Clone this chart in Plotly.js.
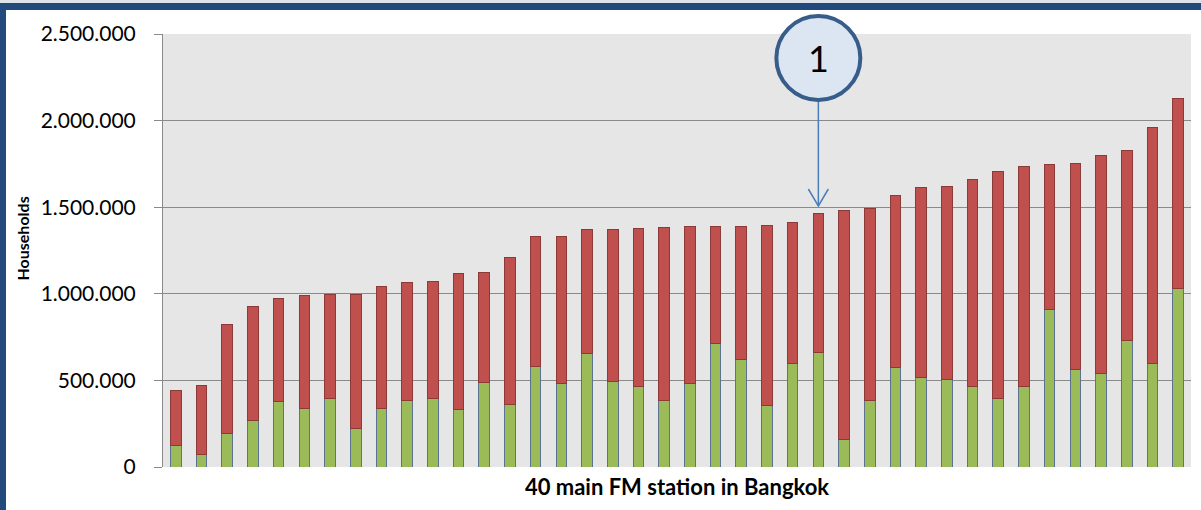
<!DOCTYPE html>
<html>
<head>
<meta charset="utf-8">
<script src="https://cdn.plot.ly/plotly-3.0.1.min.js"></script>
<style>
  html, body { margin: 0; padding: 0; background: #ffffff; }
  #wrap { position: relative; width: 1201px; height: 510px; overflow: hidden; }
  #chart { position: absolute; left: 0; top: 0; width: 1201px; height: 510px; }
  .frame-top { position: absolute; left: 0; top: 3px; width: 1201px; height: 7px; background: #234a7c; pointer-events: none; }
  .frame-top-light { position: absolute; left: 0; top: 0; width: 1201px; height: 3px; background: #dfe3ea; pointer-events: none; }
  .frame-left { position: absolute; left: 0; top: 3px; width: 6px; height: 507px; background: #234a7c; pointer-events: none; }
</style>
</head>
<body>
<div id="wrap">
  <div id="chart"></div>
  <div class="frame-top-light"></div>
  <div class="frame-top"></div>
  <div class="frame-left"></div>
</div>
<script>
// 40 main FM stations (sorted by total households)
const stations = [1,2,3,4,5,6,7,8,9,10,11,12,13,14,15,16,17,18,19,20,
                  21,22,23,24,25,26,27,28,29,30,31,32,33,34,35,36,37,38,39,40];

// lower (green) segment, households
const greenValues = [125000, 75000, 191000, 266000, 380000, 335000, 397000, 224000, 335000, 385000,
                     397000, 330000, 488000, 361000, 578000, 482000, 657000, 491000, 462000, 384000,
                     482000, 711000, 618000, 353000, 600000, 663000, 156000, 385000, 572000, 518000,
                     505000, 462000, 393000, 462000, 910000, 561000, 538000, 733000, 595000, 1030000];

// upper (red) segment, households
const redValues = [316000, 397000, 634000, 661000, 595000, 656000, 601000, 774000, 705000, 679000,
                   672000, 788000, 636000, 847000, 751000, 847000, 715000, 881000, 916000, 1001000,
                   904000, 676000, 769000, 1042000, 814000, 799000, 1324000, 1110000, 998000, 1095000,
                   1113000, 1199000, 1316000, 1272000, 836000, 1190000, 1258000, 1097000, 1368000, 1095000];

const yTicks = [0, 500000, 1000000, 1500000, 2000000, 2500000];

const xTitle = '40 main FM station in Bangkok';
const yTitle = 'Households';

const markedStation = 26;   // station pointed to by callout "1"
const calloutLabel = '1';

const xRange = [0.5, 40.5];
const xFrac = (markedStation - xRange[0]) / (xRange[1] - xRange[0]);

const font = 'Lato, "Open Sans", sans-serif';

const traces = [
  {
    type: 'bar', x: stations, y: greenValues, name: 'green',
    marker: { color: '#9bbb59', line: { color: '#5a7390', width: 1 } },
    hoverinfo: 'y'
  },
  {
    type: 'bar', x: stations, y: redValues, name: 'red',
    marker: { color: '#c0504d', line: { color: '#8c3a38', width: 1 } },
    hoverinfo: 'y'
  }
];

const layout = {
  width: 1201, height: 510,
  margin: { l: 163, r: 10, t: 34, b: 43 },
  paper_bgcolor: 'rgba(0,0,0,0)',
  plot_bgcolor: '#e6e6e6',
  barmode: 'stack',
  bargap: 0.59,
  showlegend: false,
  separators: ',.',
  font: { family: font, color: '#000000' },
  xaxis: {
    range: xRange,
    showticklabels: false,
    ticks: '',
    showgrid: false,
    zeroline: false,
    showline: false,
    fixedrange: true,
    title: { text: '<b>' + xTitle + '</b>', font: { family: font, size: 22, color: '#000' }, standoff: 12 }
  },
  yaxis: {
    range: [0, 2500000],
    tickvals: yTicks,
    tickformat: ',d',
    tickfont: { family: font, size: 21, color: '#000' },
    ticks: 'outside',
    ticklen: 8,
    tickcolor: '#8a8a8a',
    ticklabelstandoff: 14,
    showgrid: true,
    gridcolor: '#8a8a8a',
    gridwidth: 1,
    zeroline: false,
    showline: true,
    linecolor: '#8a8a8a',
    linewidth: 1,
    fixedrange: true
  },
  shapes: [
    // callout arrow shaft
    {
      type: 'line', xref: 'paper', yref: 'paper',
      xsizemode: 'pixel', ysizemode: 'pixel', xanchor: xFrac, yanchor: 1,
      x0: 0, x1: 0, y0: -66, y1: -172,
      line: { color: '#4a7ebb', width: 1.5 }
    },
    // open arrow head
    {
      type: 'path', xref: 'paper', yref: 'paper',
      xsizemode: 'pixel', ysizemode: 'pixel', xanchor: xFrac, yanchor: 1,
      path: 'M-10,-155 L0,-172 L10,-155',
      line: { color: '#4a7ebb', width: 1.5 }
    },
    // callout circle
    {
      type: 'circle', xref: 'paper', yref: 'paper',
      xsizemode: 'pixel', ysizemode: 'pixel', xanchor: xFrac, yanchor: 1,
      x0: -42, x1: 42, y0: -66, y1: 18,
      fillcolor: '#dce6f2',
      line: { color: '#385d8a', width: 4 }
    }
  ],
  annotations: [
    {
      xref: 'paper', yref: 'paper', x: xFrac, y: 1, yshift: -24,
      text: calloutLabel, showarrow: false,
      font: { family: font, size: 36, color: '#000' },
      xanchor: 'center', yanchor: 'middle'
    },
    {
      // y axis title
      xref: 'paper', yref: 'paper', x: 0, y: 0.5, xshift: -141, yshift: 12,
      text: '<b>' + yTitle + '</b>', showarrow: false, textangle: -90,
      font: { family: font, size: 16, color: '#000' },
      xanchor: 'center', yanchor: 'middle'
    }
  ]
};

Plotly.newPlot('chart', traces, layout, { displayModeBar: false, staticPlot: true });
</script>
</body>
</html>
